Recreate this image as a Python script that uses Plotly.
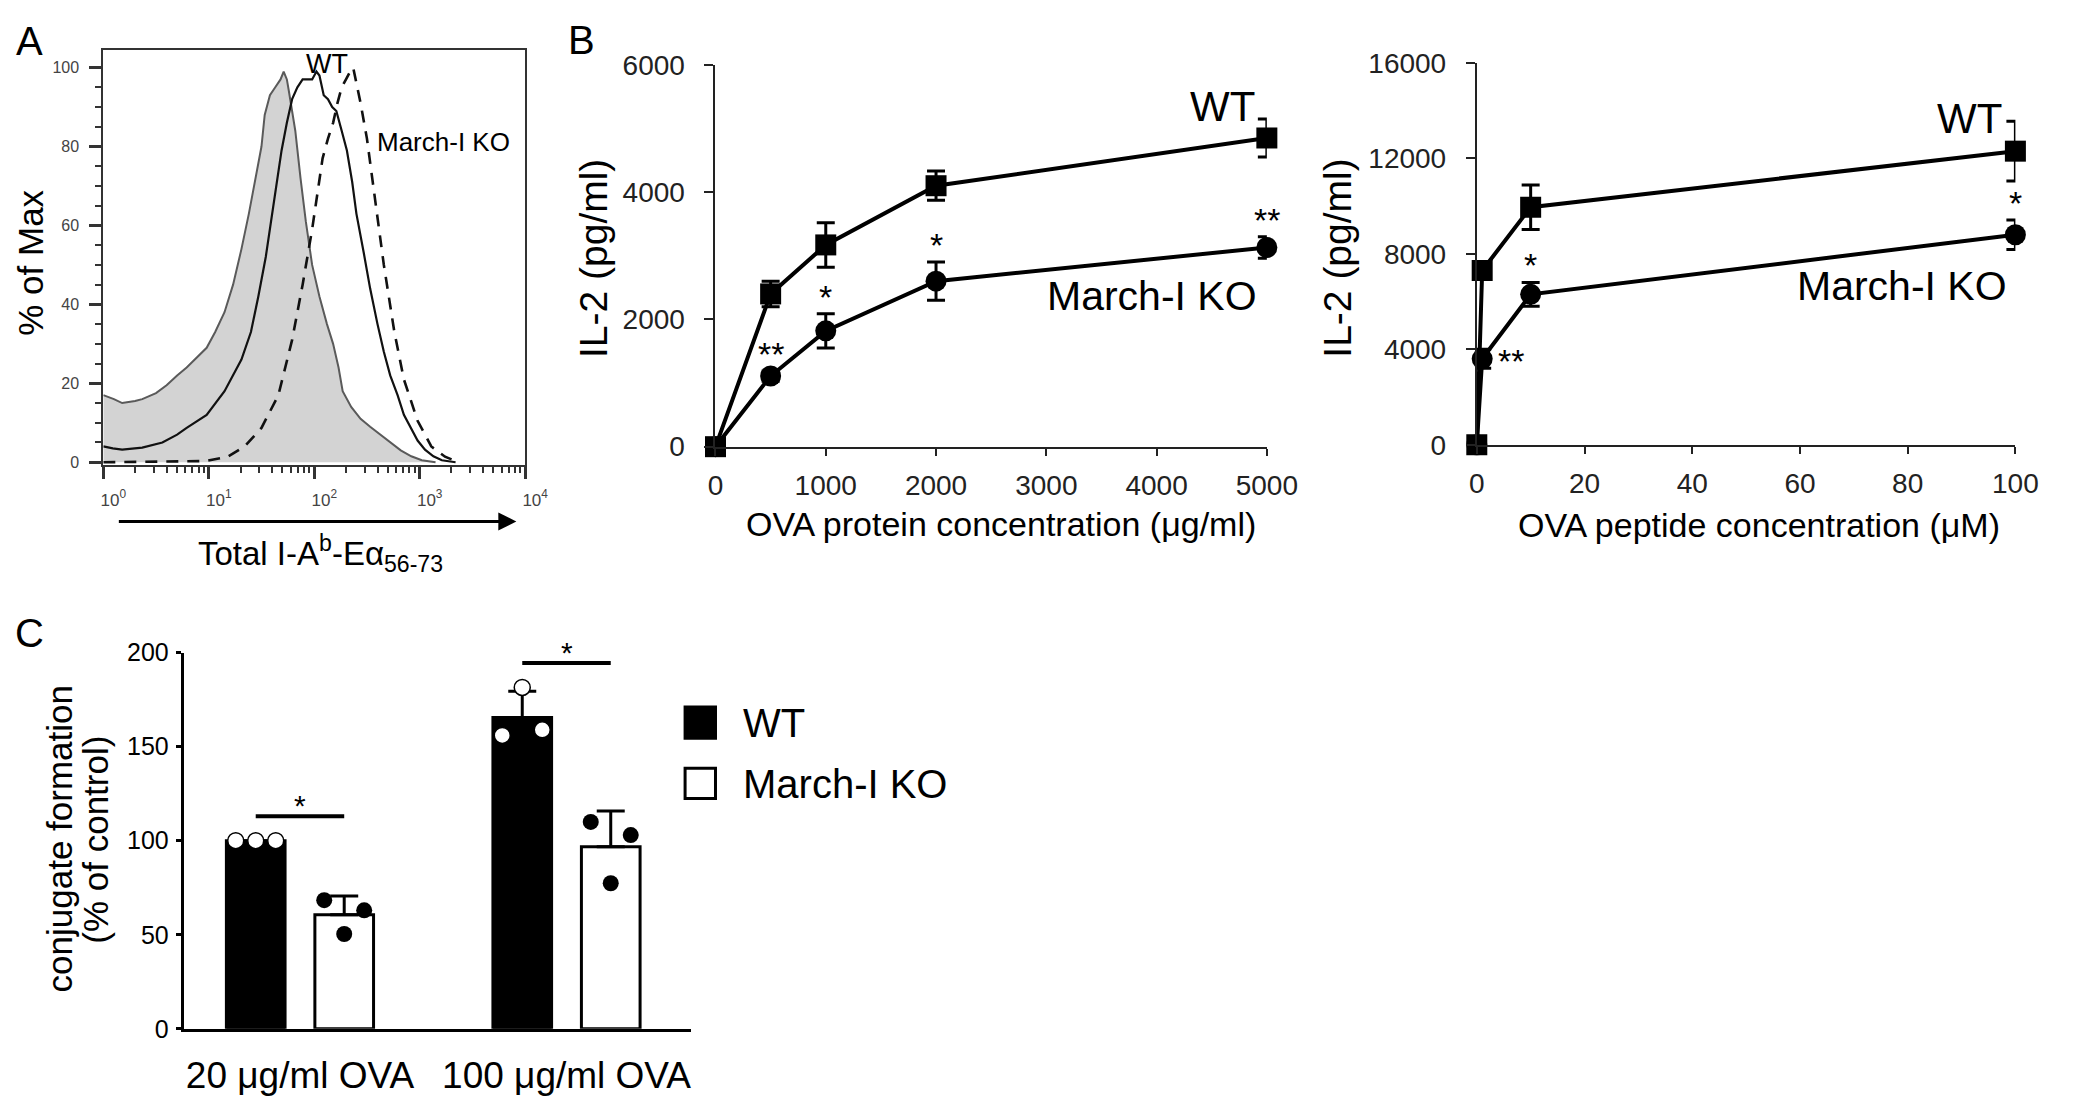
import plotly.graph_objects as go

W, H = 2075, 1114
OFF = 8  # default page body margin; figure is sized so the page fits the window exactly
FW, FH = W - 2 * OFF, H - 2 * OFF
FONT = "Liberation Sans, Arial, Helvetica, sans-serif"
NARROW = "Liberation Sans Narrow, Arial Narrow, Liberation Sans, Arial, sans-serif"

# ---------------- Panel A: histogram (% of Max vs intensity) ----------------
ctrl_x = [1.00, 1.26, 1.51, 2.00, 2.34, 3.16, 3.98, 5.01, 6.17, 7.94, 9.55, 11.5, 14.1, 17.0, 20.4,
          24.0, 27.5, 31.6, 33.9, 38.0, 42.7, 47.9, 51.3, 55.0, 57.5, 61.7, 66.1, 74.1, 83.2, 95.5,
          112, 132, 151, 170, 186, 224, 275, 339, 427, 525, 661, 832, 1047, 1413]
ctrl_y = [17, 16, 15, 15.5, 16, 17.5, 19.5, 22, 24, 27, 29, 33, 38, 45, 54,
          63, 71, 80, 88, 93, 95, 97, 99, 97, 94, 89, 84, 72, 61, 50,
          42, 35, 30, 24, 18, 14, 11, 9, 7, 5, 3, 1.5, 0.5, 0]

wt_hist_x = [1.00, 1.23, 1.51, 2.34, 3.63, 5.01, 6.17, 9.55, 14.1, 20.4, 25.1, 29.5, 34.7, 39.8,
             44.7, 49.0, 55.0, 61.7, 69.2, 77.6, 87.1, 95.5, 105, 112, 123, 135, 148, 162, 182,
             204, 229, 251, 295, 339, 398, 457, 525, 617, 708, 832, 955, 1122, 1349, 1622, 2188]
wt_hist_y = [4, 3.5, 3.2, 3.7, 5, 7, 8.7, 12, 18, 26, 33, 42, 52, 63,
             72, 79, 86, 92, 95, 97, 97, 97, 99, 98, 93, 92, 90, 89, 84,
             79, 71, 63, 53, 44, 35, 28, 22, 17, 12, 8.7, 5.5, 3.2, 1.5, 0.5, 0]

ko_hist_x = [1.00, 3.16, 9.33, 15.1, 21.9, 31.6, 45.7, 61.7, 77.6, 95.5, 105, 120, 135, 151, 166,
             182, 200, 219, 234, 275, 316, 363, 457, 575, 708, 955, 1288, 1738, 2344]
ko_hist_y = [0, 0.2, 0.3, 1.4, 4, 8.7, 17, 31, 45, 59, 66, 77, 82, 86, 91,
             95, 97, 99, 100, 91, 82, 70, 50, 33, 21, 10.5, 4, 1.4, 0]

hist_ticks = [1, 10, 100, 1000, 10000]
hist_ticktext = ["10<sup>0</sup>", "10<sup>1</sup>", "10<sup>2</sup>", "10<sup>3</sup>", "10<sup>4</sup>"]

# ---------------- Panel B: IL-2 ----------------
prot_conc = [0, 500, 1000, 2000, 5000]
prot_wt = [0, 2400, 3170, 4100, 4850]
prot_wt_err = [0, 200, 350, 230, 300]
prot_ko = [0, 1110, 1820, 2600, 3130]
prot_ko_err = [0, 80, 270, 300, 170]
prot_sig_x = [500, 1000, 2000, 5000]
prot_sig = ["**", "*", "*", "**"]

pep_conc = [0, 1, 10, 100]
pep_wt = [0, 7300, 9950, 12300]
pep_wt_err = [0, 250, 930, 1250]
pep_ko = [0, 3600, 6300, 8800]
pep_ko_err = [0, 400, 500, 620]
pep_sig_x = [1, 10, 100]
pep_sig = ["**", "*", "*"]

# ---------------- Panel C: conjugate formation ----------------
groups = ["20 \u03bcg/ml OVA", "100 \u03bcg/ml OVA"]
conj_wt = [100, 165.5]
conj_wt_err = [0, 14]
conj_ko = [60.6, 96.8]
conj_ko_err = [10, 19]
conj_wt_pts = [[100, 100, 100], [156, 181.5, 159]]
conj_ko_pts = [[68.4, 50.4, 63], [110, 77.4, 103]]
conj_sig = ["*", "*"]


def px_x(v):
    return (v - OFF) / FW


def px_y(v):
    return 1 - (v - OFF) / FH


def ann(text, x, y, size, family=FONT, **kw):
    d = dict(text=text, x=px_x(x), y=px_y(y), xref="paper", yref="paper", showarrow=False,
             font=dict(size=size, color="black", family=family), xanchor="center", yanchor="middle")
    d.update(kw)
    return d


fig = go.Figure()

# ---- Panel A traces ----
fig.add_trace(go.Scatter(x=ctrl_x, y=ctrl_y, mode="lines", fill="tozeroy", fillcolor="#d3d3d3",
                         line=dict(color="#5a5a5a", width=2), xaxis="x", yaxis="y", showlegend=False))
fig.add_trace(go.Scatter(x=wt_hist_x, y=wt_hist_y, mode="lines",
                         line=dict(color="#111111", width=2.2), xaxis="x", yaxis="y", showlegend=False))
fig.add_trace(go.Scatter(x=ko_hist_x, y=ko_hist_y, mode="lines",
                         line=dict(color="#111111", width=2.6, dash="12px,9px"), xaxis="x", yaxis="y",
                         showlegend=False))

# ---- Panel B left ----
for yv, ev, sym in [(prot_ko, prot_ko_err, "circle"), (prot_wt, prot_wt_err, "square")]:
    fig.add_trace(go.Scatter(x=prot_conc, y=yv, mode="lines+markers",
                             marker=dict(symbol=sym, size=21, color="black"),
                             line=dict(color="black", width=4),
                             error_y=dict(type="data", array=ev, color="black", thickness=3, width=9),
                             cliponaxis=False, xaxis="x2", yaxis="y2", showlegend=False))

# ---- Panel B right ----
for yv, ev, sym in [(pep_ko, pep_ko_err, "circle"), (pep_wt, pep_wt_err, "square")]:
    fig.add_trace(go.Scatter(x=pep_conc, y=yv, mode="lines+markers",
                             marker=dict(symbol=sym, size=21, color="black"),
                             line=dict(color="black", width=4),
                             error_y=dict(type="data", array=ev, color="black", thickness=3, width=9),
                             cliponaxis=False, xaxis="x3", yaxis="y3", showlegend=False))

# ---- Panel C ----
BARGAP = 0.336
BARGROUPGAP = 0.337
cat_x = list(range(len(groups)))
fig.add_trace(go.Bar(x=cat_x, y=conj_wt, marker=dict(color="black", line=dict(color="black", width=3)),
                     error_y=dict(type="data", symmetric=False, array=conj_wt_err,
                                  arrayminus=[0] * len(conj_wt), color="black", thickness=3, width=14),
                     xaxis="x4", yaxis="y4", showlegend=False, offsetgroup="wt"))
fig.add_trace(go.Bar(x=cat_x, y=conj_ko, marker=dict(color="white", line=dict(color="black", width=3)),
                     error_y=dict(type="data", symmetric=False, array=conj_ko_err,
                                  arrayminus=[0] * len(conj_ko), color="black", thickness=3, width=14),
                     xaxis="x4", yaxis="y4", showlegend=False, offsetgroup="ko"))

slot = (1 - BARGAP) / 2
off_wt, off_ko = -slot / 2, slot / 2
jitter = [-0.075, 0.0, 0.075]
wt_dx, wt_dy, ko_dx, ko_dy = [], [], [], []
for i, c in enumerate(cat_x):
    for j, v in enumerate(conj_wt_pts[i]):
        wt_dx.append(c + off_wt + jitter[j]); wt_dy.append(v)
    for j, v in enumerate(conj_ko_pts[i]):
        ko_dx.append(c + off_ko + jitter[j]); ko_dy.append(v)
fig.add_trace(go.Scatter(x=wt_dx, y=wt_dy, mode="markers",
                         marker=dict(size=16, color="white", line=dict(color="black", width=1.5)),
                         cliponaxis=False, xaxis="x4", yaxis="y4", showlegend=False))
fig.add_trace(go.Scatter(x=ko_dx, y=ko_dy, mode="markers",
                         marker=dict(size=16, color="black"),
                         cliponaxis=False, xaxis="x4", yaxis="y4", showlegend=False))

shapes = []
annotations = []
for i, c in enumerate(cat_x):
    top = max(conj_wt[i] + conj_wt_err[i], conj_ko[i] + conj_ko_err[i],
              max(conj_wt_pts[i]), max(conj_ko_pts[i]))
    ly = top + 13
    shapes.append(dict(type="line", xref="x4", yref="y4", x0=c + off_wt, x1=c + off_ko, y0=ly, y1=ly,
                       line=dict(color="black", width=4)))
    annotations.append(dict(text=conj_sig[i], x=c, y=ly, xref="x4", yref="y4", showarrow=False,
                            font=dict(size=30, color="black", family=FONT), xanchor="center",
                            yanchor="bottom", yshift=-8))

for xv, s in zip(prot_sig_x, prot_sig):
    k = prot_conc.index(xv)
    annotations.append(dict(text=s, x=xv, y=prot_ko[k] + prot_ko_err[k], xref="x2", yref="y2",
                            showarrow=False, font=dict(size=34, color="black", family=FONT),
                            xanchor="center", yanchor="bottom", yshift=-4))
for xv, s in zip(pep_sig_x, pep_sig):
    k = pep_conc.index(xv)
    if xv == pep_sig_x[0]:
        annotations.append(dict(text=s, x=xv, y=pep_ko[k], xref="x3", yref="y3", showarrow=False,
                                font=dict(size=34, color="black", family=FONT),
                                xanchor="left", yanchor="middle", xshift=14, yshift=-2))
    else:
        annotations.append(dict(text=s, x=xv, y=pep_ko[k] + pep_ko_err[k], xref="x3", yref="y3",
                                showarrow=False, font=dict(size=34, color="black", family=FONT),
                                xanchor="center", yanchor="bottom", yshift=-4))

annotations += [
    ann("A", 22, 27, 40),
    ann("B", 584, 25, 40),
    ann("C", 22, 636, 40),
    ann("% of Max", 22, 255, 35, textangle=-90),
    ann("Total I-A<sup>b</sup>-E\u03b1<sub>56-73</sub>", 318, 554, 33),
    ann("WT", 325, 50, 27),
    ann("March-I KO", 444, 130, 26),
    ann("IL-2 (pg/ml)", 596, 250, 39, textangle=-90),
    ann("OVA protein concentration (\u03bcg/ml)", 1012, 524, 34),
    ann("WT", 1238, 94, 42),
    ann("March-I KO", 1166, 289, 41),
    ann("IL-2 (pg/ml)", 1355, 250, 39, textangle=-90),
    ann("OVA peptide concentration (\u03bcM)", 1785, 525, 34),
    ann("WT", 1999, 106, 42),
    ann("March-I KO", 1930, 279, 41),
    ann("conjugate formation", 52, 848, 35, textangle=-90),
    ann("(% of control)", 89, 848, 35, textangle=-90),
    ann("WT", 747, 728, 40, xanchor="left"),
    ann("March-I KO", 747, 791, 40, xanchor="left"),
]
annotations.append(dict(x=px_x(518), y=px_y(521), xref="paper", yref="paper", text="", showarrow=True,
                        ax=-399, ay=0, arrowhead=2, arrowsize=1.2, arrowwidth=3, arrowcolor="black"))

# legend keys for panel C
shapes.append(dict(type="rect", xref="paper", yref="paper", x0=px_x(690), x1=px_x(721),
                   y0=px_y(744), y1=px_y(712), fillcolor="black", line=dict(color="black", width=3)))
shapes.append(dict(type="rect", xref="paper", yref="paper", x0=px_x(690), x1=px_x(721),
                   y0=px_y(806), y1=px_y(775), fillcolor="white", line=dict(color="black", width=3)))

axis_common = dict(showgrid=False, zeroline=False, showline=True, ticks="outside")
minor_log = [m * 10 ** d for d in range(4) for m in range(2, 10)]

fig.update_layout(
    width=FW, height=FH, autosize=False,
    margin=dict(l=0, r=0, t=0, b=0),
    paper_bgcolor="white", plot_bgcolor="white",
    font=dict(family=FONT, color="black"),
    barmode="group", bargap=BARGAP, bargroupgap=BARGROUPGAP,
    xaxis=dict(**axis_common, type="log", domain=[px_x(97), px_x(527)], range=[0, 4], anchor="y",
               mirror=True, linecolor="#333", linewidth=2,
               tickmode="array", tickvals=hist_ticks, ticktext=hist_ticktext, ticklen=12, tickwidth=3,
               tickcolor="#333", tickfont=dict(size=17, color="#444"), ticklabelstandoff=6,
               ticklabelshift=10,
               minor=dict(tickmode="array", tickvals=minor_log, ticks="outside", ticklen=6, tickwidth=2,
                          tickcolor="#333", showgrid=False)),
    yaxis=dict(**axis_common, domain=[px_y(463), px_y(36)], range=[-0.74, 104.4], anchor="x",
               mirror=True, linecolor="#333", linewidth=2,
               tickvals=[0, 20, 40, 60, 80, 100], ticklen=12, tickwidth=3, tickcolor="#333",
               tickfont=dict(size=16, color="#444"), ticklabelstandoff=7,
               minor=dict(dtick=5, ticks="outside", ticklen=6, tickwidth=2, tickcolor="#333",
                          showgrid=False)),
    xaxis2=dict(**axis_common, domain=[px_x(721), px_x(1283)], range=[0, 5000], anchor="y2",
                linecolor="#222", linewidth=2, tickvals=[0, 1000, 2000, 3000, 4000, 5000],
                ticklen=7, tickwidth=2, tickcolor="#222", tickfont=dict(size=28, color="#222"),
                ticklabelstandoff=6),
    yaxis2=dict(**axis_common, domain=[px_y(444), px_y(51)], range=[0, 6000], anchor="x2",
                linecolor="#222", linewidth=2, tickvals=[0, 2000, 4000, 6000],
                ticklen=9, tickwidth=2, tickcolor="#222", tickfont=dict(size=28, color="#222"),
                ticklabelstandoff=14),
    xaxis3=dict(**axis_common, domain=[px_x(1497), px_x(2046)], range=[0, 100], anchor="y3",
                linecolor="#222", linewidth=2, tickvals=[0, 20, 40, 60, 80, 100],
                ticklen=7, tickwidth=2, tickcolor="#222", tickfont=dict(size=28, color="#222"),
                ticklabelstandoff=6),
    yaxis3=dict(**axis_common, domain=[px_y(442), px_y(49)], range=[0, 16000], anchor="x3",
                linecolor="#222", linewidth=2, tickvals=[0, 4000, 8000, 12000, 16000], tickformat="d",
                ticklen=9, tickwidth=2, tickcolor="#222", tickfont=dict(size=28, color="#222"),
                ticklabelstandoff=14),
    xaxis4=dict(showgrid=False, zeroline=False, showline=True, ticks="",
                domain=[px_x(179), px_x(696)], range=[-0.436, 1.467], anchor="y4",
                linecolor="black", linewidth=3, tickmode="array", tickvals=cat_x, ticktext=groups,
                tickfont=dict(size=37, color="black", family=NARROW), ticklabelstandoff=12),
    yaxis4=dict(**axis_common, domain=[px_y(1043), px_y(656)], range=[0, 200], anchor="x4",
                linecolor="black", linewidth=3, tickvals=[0, 50, 100, 150, 200],
                ticklen=5, tickwidth=2.5, tickcolor="black",
                tickfont=dict(size=25, color="black", family=NARROW), ticklabelstandoff=2),
    shapes=shapes,
    annotations=annotations,
)

fig.write_html("out.html")
